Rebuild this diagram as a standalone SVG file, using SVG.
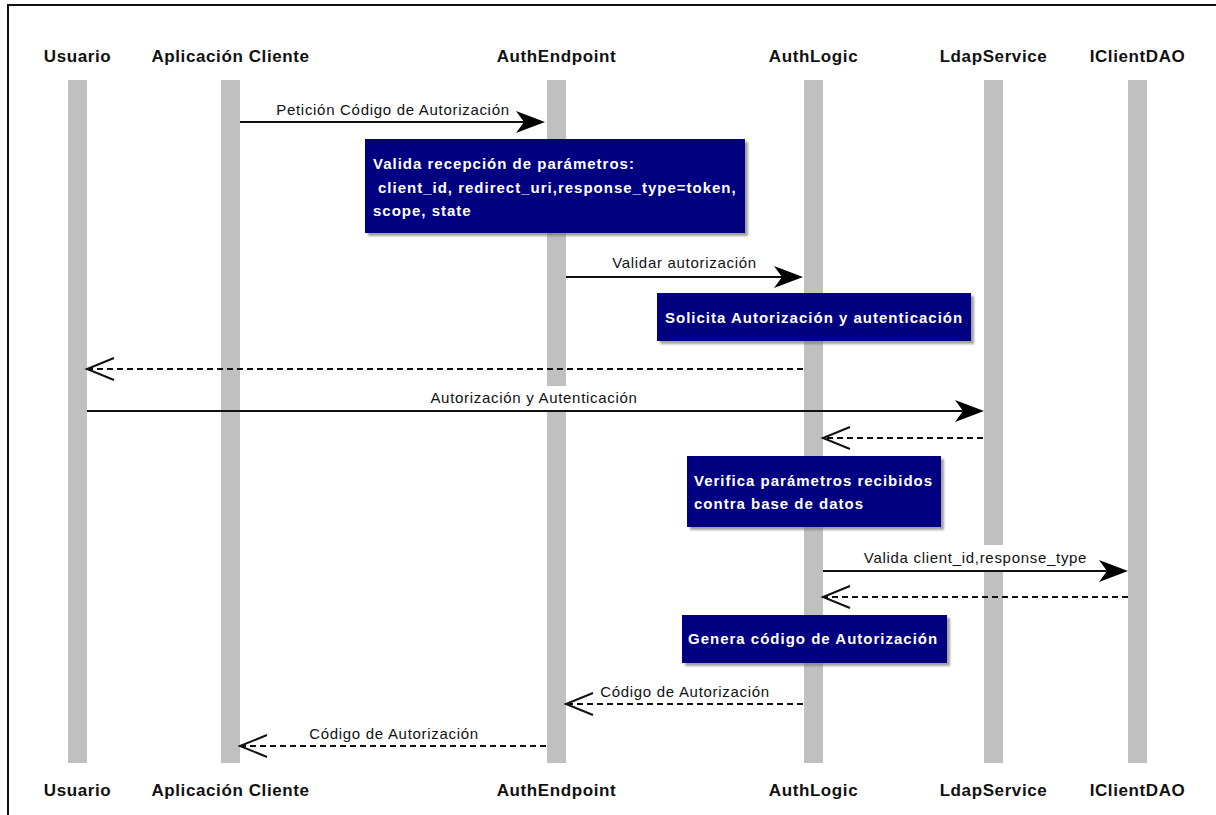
<svg xmlns="http://www.w3.org/2000/svg" width="1216" height="815" viewBox="0 0 1216 815">
  <defs>
    <style>
      .frame { fill: none; stroke: #111; stroke-width: 2; }
      .life { fill: #c0c0c0; }
      .head { font-family: "Liberation Sans", Arial, sans-serif; font-size: 17px; font-weight: bold; letter-spacing: 0.6px; fill: #111; text-anchor: middle; }
      .msg { font-family: "Liberation Sans", Arial, sans-serif; font-size: 15px; letter-spacing: 0.7px; fill: #111; text-anchor: middle; }
      .call { fill: none; stroke: #111; stroke-width: 2; marker-end: url(#filled); }
      .ret { fill: none; stroke: #111; stroke-width: 2; stroke-dasharray: 6 4; marker-end: url(#open); }
      .note { fill: #000080; }
      .shadow { fill: #7a7a7a; opacity: 0.7; filter: url(#soft); }
      .ntext { font-family: "Liberation Sans", Arial, sans-serif; font-size: 15px; font-weight: bold; letter-spacing: 1px; fill: #fff; }
    </style>
    <filter id="soft" x="-5%" y="-10%" width="110%" height="120%">
      <feGaussianBlur stdDeviation="1"/>
    </filter>
    <!-- barbed filled head for synchronous calls -->
    <marker id="filled" markerUnits="userSpaceOnUse" markerWidth="30" markerHeight="24" refX="10" refY="11" orient="auto" overflow="visible">
      <path d="M29,11 L0,0 L8,11 L0,22 Z" fill="#000"/>
    </marker>
    <!-- open head for returns -->
    <marker id="open" markerUnits="userSpaceOnUse" markerWidth="30" markerHeight="24" refX="27" refY="11" orient="auto" overflow="visible">
      <path d="M0,0 L27,11 L0,22" fill="none" stroke="#111" stroke-width="2"/>
    </marker>
  </defs>

  <rect x="0" y="0" width="1216" height="815" fill="#fff"/>
  <path class="frame" d="M8,815 L8,5 L1216,5"/>

  <!-- participants: header, lifeline, footer -->
  <g id="usuario">
    <text class="head" x="77.5" y="62">Usuario</text>
    <rect class="life" x="68" y="80" width="19" height="683"/>
    <text class="head" x="77.5" y="796">Usuario</text>
  </g>
  <g id="aplicacion-cliente">
    <text class="head" x="230.5" y="62">Aplicación Cliente</text>
    <rect class="life" x="221" y="80" width="19" height="683"/>
    <text class="head" x="230.5" y="796">Aplicación Cliente</text>
  </g>
  <g id="auth-endpoint">
    <text class="head" x="556.5" y="62">AuthEndpoint</text>
    <rect class="life" x="547" y="80" width="19" height="306"/>
    <rect class="life" x="547" y="410" width="19" height="353"/>
    <text class="head" x="556.5" y="796">AuthEndpoint</text>
  </g>
  <g id="auth-logic">
    <text class="head" x="813.5" y="62">AuthLogic</text>
    <rect class="life" x="804" y="80" width="19" height="683"/>
    <text class="head" x="813.5" y="796">AuthLogic</text>
  </g>
  <g id="ldap-service">
    <text class="head" x="993.5" y="62">LdapService</text>
    <rect class="life" x="984" y="80" width="19" height="465"/>
    <rect class="life" x="984" y="570" width="19" height="193"/>
    <text class="head" x="993.5" y="796">LdapService</text>
  </g>
  <g id="iclient-dao">
    <text class="head" x="1137.5" y="62">IClientDAO</text>
    <rect class="life" x="1128" y="80" width="19" height="683"/>
    <text class="head" x="1137.5" y="796">IClientDAO</text>
  </g>

  <!-- notes -->
  <g id="note-valida">
    <rect class="shadow" x="368" y="142" width="380" height="94"/>
    <rect class="note" x="365" y="139" width="380" height="94"/>
    <text class="ntext" x="373" y="169">Valida recepción de parámetros:</text>
    <text class="ntext" x="378" y="193">client_id, redirect_uri,response_type=token,</text>
    <text class="ntext" x="373" y="216">scope, state</text>
  </g>
  <g id="note-solicita">
    <rect class="shadow" x="660" y="296" width="314" height="48"/>
    <rect class="note" x="657" y="293" width="314" height="48"/>
    <text class="ntext" x="665" y="323">Solicita Autorización y autenticación</text>
  </g>
  <g id="note-verifica">
    <rect class="shadow" x="690" y="459" width="254" height="71"/>
    <rect class="note" x="687" y="456" width="254" height="71"/>
    <text class="ntext" x="694" y="486">Verifica parámetros recibidos</text>
    <text class="ntext" x="694" y="509">contra base de datos</text>
  </g>
  <g id="note-genera">
    <rect class="shadow" x="685" y="618" width="265" height="48"/>
    <rect class="note" x="682" y="615" width="265" height="48"/>
    <text class="ntext" x="688" y="644">Genera código de Autorización</text>
  </g>

  <!-- messages -->
  <g id="connectors">
    <path class="call" d="M240,122 L526,122"/>
    <text class="msg" x="393" y="115">Petición Código de Autorización</text>

    <path class="call" d="M566,277 L784,277"/>
    <text class="msg" x="684.5" y="268">Validar autorización</text>

    <path class="ret" d="M803,369 L87,369"/>

    <path class="call" d="M87,411 L965,411"/>
    <text class="msg" x="534" y="403">Autorización y Autenticación</text>

    <path class="ret" d="M983,438 L823,438"/>

    <path class="call" d="M823,571 L1109,571"/>
    <text class="msg" x="975.5" y="563">Valida client_id,response_type</text>

    <path class="ret" d="M1128,597 L823,597"/>

    <path class="ret" d="M803,704 L566,704"/>
    <text class="msg" x="685" y="697">Código de Autorización</text>

    <path class="ret" d="M546,746 L240,746"/>
    <text class="msg" x="394" y="739">Código de Autorización</text>
  </g>
</svg>
